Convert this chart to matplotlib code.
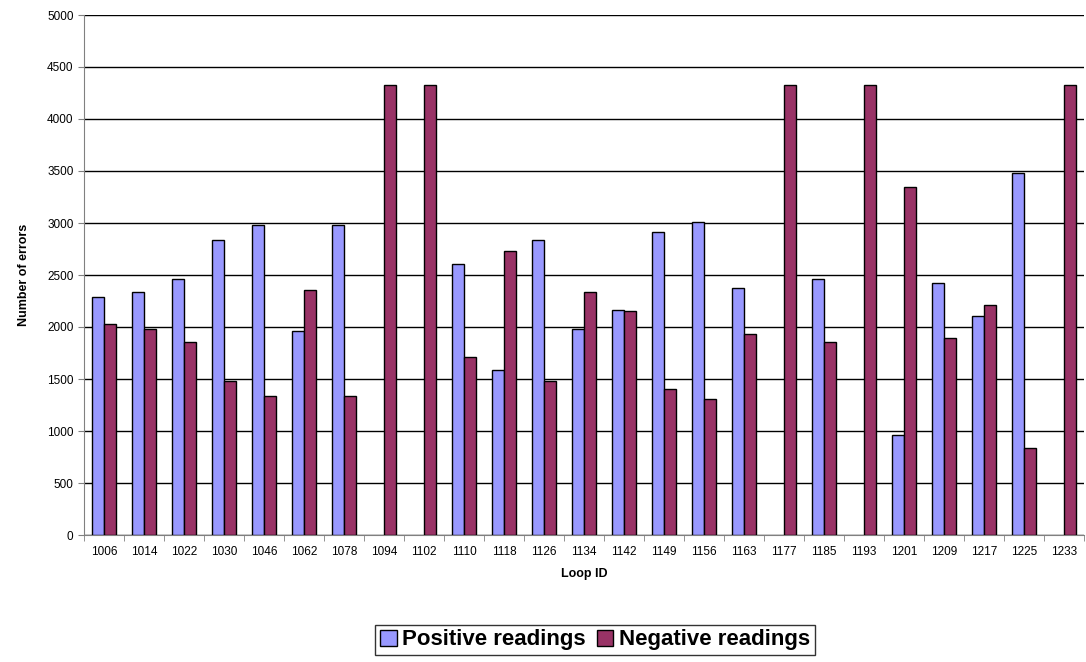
import numpy as np
import matplotlib
matplotlib.use("Agg")
from matplotlib import pyplot as plt
from matplotlib.ticker import FixedLocator, NullFormatter

loop_ids = ["1006", "1014", "1022", "1030", "1046", "1062", "1078", "1094", "1102",
            "1110", "1118", "1126", "1134", "1142", "1149", "1156", "1163", "1177",
            "1185", "1193", "1201", "1209", "1217", "1225", "1233"]
positive = [2285, 2340, 2462, 2839, 2981, 1966, 2981, 0, 0,
            2608, 1589, 2836, 1976, 2164, 2913, 3007, 2379, 0,
            2460, 0, 964, 2426, 2107, 3481, 0]
negative = [2030, 1976, 1852, 1478, 1334, 2352, 1334, 4325, 4325,
            1707, 2728, 1478, 2339, 2151, 1405, 1310, 1935, 4325,
            1852, 4325, 3347, 1892, 2208, 837, 4325]

plt.rcParams['font.family'] = ['Liberation Sans', 'DejaVu Sans']

fig = plt.figure(figsize=(10.86, 6.62), dpi=100)
ax = fig.add_axes([84 / 1086, 127 / 662, 1000 / 1086, 520 / 662])

x = np.arange(len(loop_ids))
w = 0.29
# zero-height bars get no outline, as in the original
pos_lw = [1.0 if v > 0 else 0 for v in positive]
neg_lw = [1.0 if v > 0 else 0 for v in negative]
ax.bar(x - w / 2, positive, w, color='#9999FF', edgecolor='black', linewidth=pos_lw,
       label='Positive readings', zorder=3)
ax.bar(x + w / 2, negative, w, color='#993366', edgecolor='black', linewidth=neg_lw,
       label='Negative readings', zorder=3)

ax.set_xlim(-0.5, len(loop_ids) - 0.5)
ax.set_ylim(0, 5000)
ax.set_yticks(np.arange(0, 5001, 500))
ax.tick_params(axis='y', labelsize=8.5, length=4, color='#808080')
ax.set_xticks(x)
ax.set_xticklabels(loop_ids)
ax.tick_params(axis='x', which='major', length=0, labelsize=8.5, pad=8)
ax.xaxis.set_minor_locator(FixedLocator(np.arange(-0.5, len(loop_ids), 1)))
ax.xaxis.set_minor_formatter(NullFormatter())
ax.tick_params(axis='x', which='minor', length=4, color='#808080')

ax.grid(axis='y', color='black', linewidth=1.0, zorder=0)
for s in ['top', 'right']:
    ax.spines[s].set_visible(False)
ax.spines['left'].set_color('#808080')
ax.spines['bottom'].set_color('#808080')

ax.set_ylabel('Number of errors', fontsize=9, fontweight='bold', labelpad=12)
ax.set_xlabel('Loop ID', fontsize=9, fontweight='bold', labelpad=7)

leg = fig.legend(loc='center', bbox_to_anchor=(595 / 1086, 1 - 640 / 662), ncol=2,
                 prop={'weight': 'bold', 'size': 16}, frameon=True, fancybox=False,
                 edgecolor='black', handlelength=0.75, handleheight=0.75,
                 handletextpad=0.25, columnspacing=0.5, borderpad=0.2)
leg.get_frame().set_linewidth(1.0)

fig.savefig('out.png', dpi=100)
